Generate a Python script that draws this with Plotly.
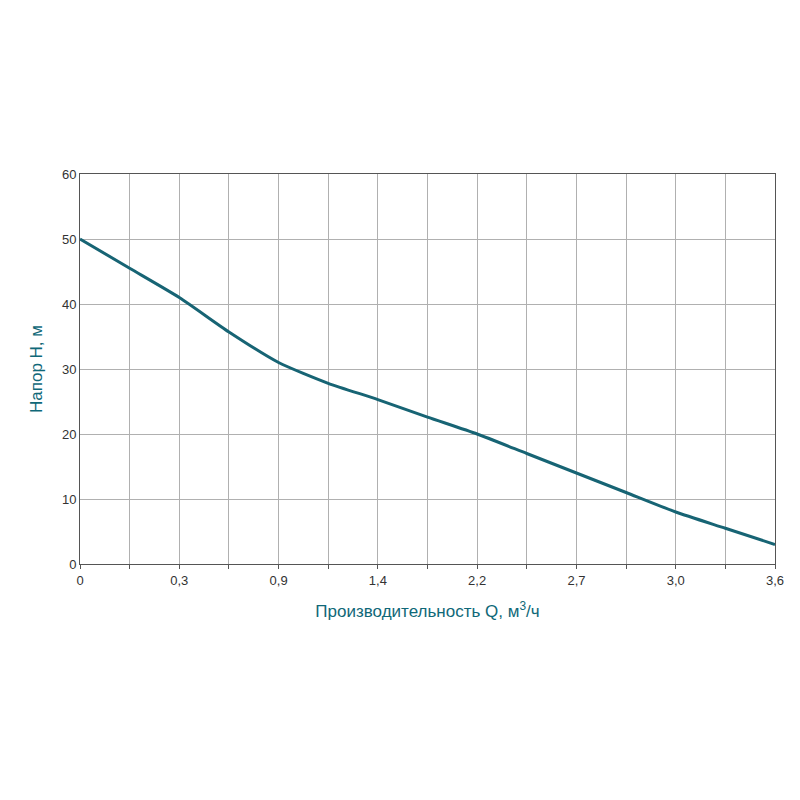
import plotly.graph_objects as go

x_idx = [0,1,2,3,4,5,6,7,8,9,10,11,12,13,14]
head = [50,45.5,41,35.7,31,27.8,25.3,22.6,20,17,14,11,8,5.5,3]
tick_labels = ["0","","0,3","","0,9","","1,4","","2,2","","2,7","","3,0","","3,6"]

fig = go.Figure(go.Scatter(x=x_idx, y=head, mode="lines", line=dict(color="#176474", width=3, shape="spline", smoothing=0.6)))
fig.update_layout(
    width=800, height=800, plot_bgcolor="white", paper_bgcolor="white",
    margin=dict(l=72, r=33, t=166, b=244), showlegend=False,
    font=dict(family="Liberation Sans, Arial", size=13, color="#333"),
)
fig.update_xaxes(range=[0,14], tickvals=x_idx, ticktext=tick_labels, showgrid=True, gridcolor="#b0b0b0",
                 showline=True, linecolor="#555", mirror=True, ticks="outside", ticklen=4, tickcolor="#555",
                 zeroline=False,
                 title=dict(text="Производительность Q, м<sup>3</sup>/ч", font=dict(size=17, color="#0f6878"), standoff=18))
fig.update_yaxes(range=[0,60], dtick=10, showgrid=True, gridcolor="#b0b0b0",
                 showline=True, linecolor="#555", mirror=True, zeroline=False, ticks="",
                 title=dict(text="Напор H, м", font=dict(size=17, color="#0f6878"), standoff=14))
fig.write_html("out.html")
